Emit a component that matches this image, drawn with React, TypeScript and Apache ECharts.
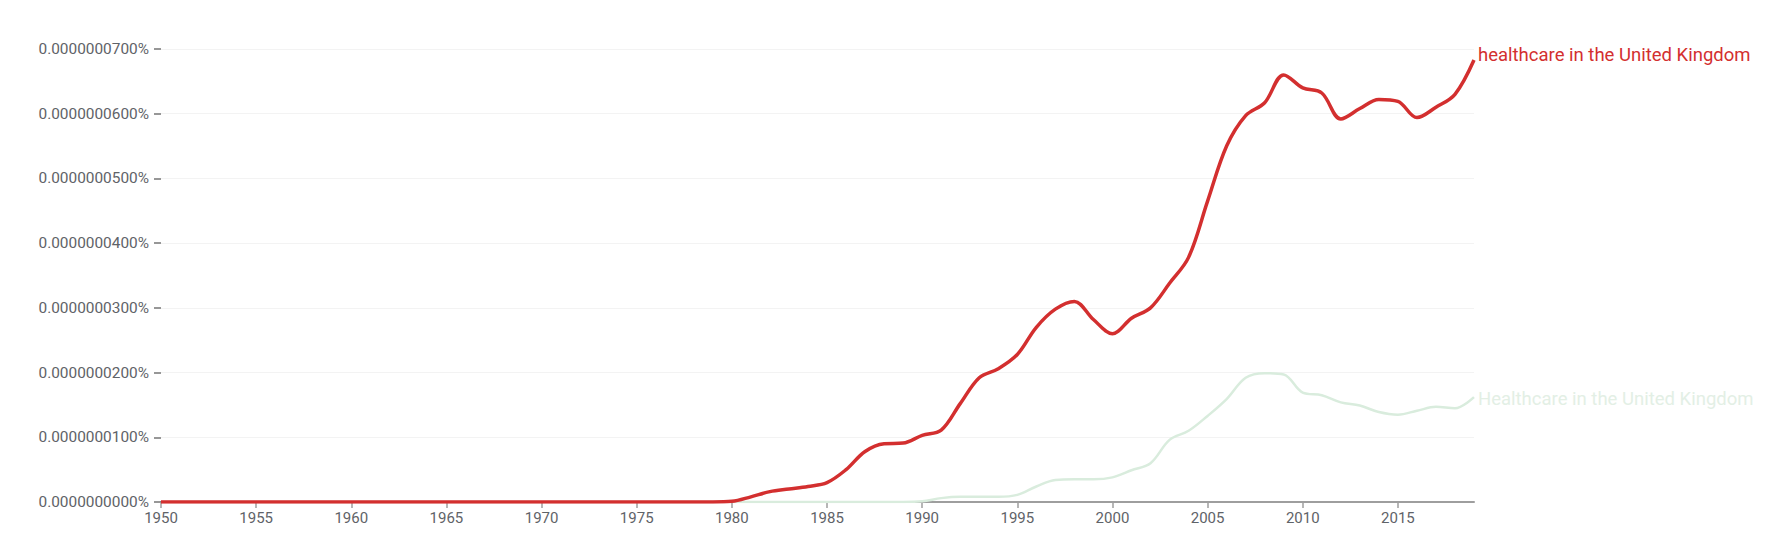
import React, { useEffect, useRef } from "react";
import * as echarts from "echarts";

// values in units of 0.0000000100 %
const redYears = [1950, 1979, 1980, 1981, 1982, 1983, 1984, 1985, 1986, 1987, 1988, 1989, 1990, 1991, 1992, 1993, 1994, 1995, 1996, 1997, 1998, 1999, 2000, 2001, 2002, 2003, 2004, 2005, 2006, 2007, 2008, 2009, 2010, 2011, 2012, 2013, 2014, 2015, 2016, 2017, 2018, 2019];
const redValues = [0, 0, 0.01, 0.08, 0.16, 0.2, 0.24, 0.3, 0.5, 0.78, 0.9, 0.91, 1.03, 1.11, 1.52, 1.92, 2.06, 2.28, 2.7, 2.98, 3.1, 2.82, 2.6, 2.84, 3.0, 3.38, 3.78, 4.65, 5.5, 5.97, 6.17, 6.6, 6.4, 6.32, 5.92, 6.08, 6.22, 6.19, 5.94, 6.1, 6.3, 6.83];

const greenYears = [1950, 1989, 1990, 1991, 1992, 1993, 1994, 1995, 1996, 1997, 1998, 1999, 2000, 2001, 2002, 2003, 2004, 2005, 2006, 2007, 2008, 2009, 2010, 2011, 2012, 2013, 2014, 2015, 2016, 2017, 2018, 2019];
const greenValues = [0, 0, 0.01, 0.06, 0.08, 0.08, 0.08, 0.11, 0.24, 0.34, 0.35, 0.35, 0.38, 0.49, 0.6, 0.96, 1.1, 1.33, 1.59, 1.92, 1.99, 1.97, 1.69, 1.65, 1.54, 1.49, 1.39, 1.35, 1.41, 1.47, 1.45, 1.62];

const xTicks = [1950, 1955, 1960, 1965, 1970, 1975, 1980, 1985, 1990, 1995, 2000, 2005, 2010, 2015];
const redName = "healthcare in the United Kingdom";
const greenName = "Healthcare in the United Kingdom";

export default function App() {
  const ref = useRef<HTMLDivElement>(null);
  useEffect(() => {
    document.body.style.margin = "0";
    const chart = echarts.init(ref.current!, null, { renderer: "svg" });
    const red = redYears.map((y, i) => [y, redValues[i]]);
    const green = greenYears.map((y, i) => [y, greenValues[i]]);
    chart.setOption({
      animation: false,
      backgroundColor: "#ffffff",
      textStyle: { fontFamily: "Roboto" },
      grid: { left: 161, right: 294, top: 49, bottom: 45 },
      xAxis: {
        type: "value",
        min: 1950,
        max: 2019,
        interval: 5,
        axisLine: { show: true, lineStyle: { color: "#9e9e9e", width: 2 } },
        axisTick: { show: true, length: 6, lineStyle: { color: "#9e9e9e", width: 1.5 }, customValues: xTicks },
        axisLabel: { color: "#5f6368", fontSize: 15, margin: 8, customValues: xTicks, formatter: (v: number) => String(v) },
        splitLine: { show: false },
      },
      yAxis: {
        type: "value",
        min: 0,
        max: 7,
        interval: 1,
        axisLine: { show: false },
        axisTick: { show: true, length: 7, lineStyle: { color: "#757575", width: 1.5 } },
        axisLabel: {
          color: "#5f6368",
          fontSize: 15.4,
          margin: 12,
          formatter: (v: number) => (v * 1e-8).toFixed(10) + "%",
        },
        splitLine: { show: true, lineStyle: { color: "#f3f3f3", width: 1 } },
      },
      series: [
        {
          name: greenName,
          type: "line",
          data: green,
          smooth: 0.35,
          symbol: "none",
          z: 2,
          lineStyle: { color: "#d9ecdd", width: 2.5 },
          endLabel: {
            show: true,
            formatter: greenName,
            color: "#e3efe5",
            fontSize: 18.5,
            distance: 4,
            offset: [0, 2],
          },
        },
        {
          name: redName,
          type: "line",
          data: red,
          smooth: 0.35,
          symbol: "none",
          z: 3,
          lineStyle: { color: "#d32f2f", width: 3.5 },
          endLabel: {
            show: true,
            formatter: redName,
            color: "#d32f2f",
            fontSize: 18.5,
            distance: 4,
            offset: [0, -5],
          },
        },
      ],
    });
    return () => chart.dispose();
  }, []);
  return <div ref={ref} style={{ width: 1768, height: 547 }} />;
}
